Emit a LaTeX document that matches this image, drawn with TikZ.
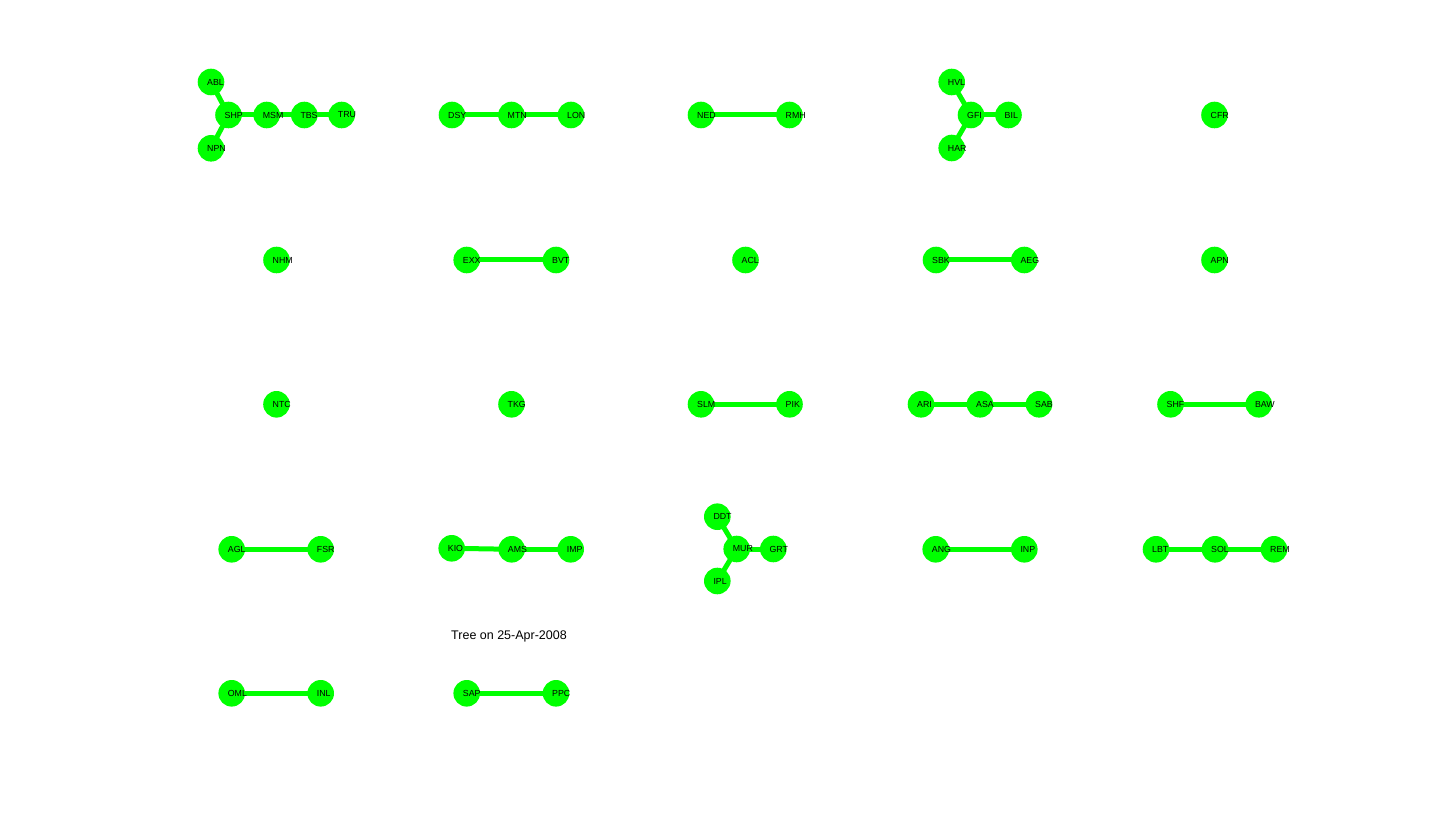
\documentclass[tikz,border=0pt]{standalone}
\usepackage{fontspec}
\setmainfont{Liberation Sans}
\pgfdeclarelayer{bg}
\pgfsetlayers{bg,main}
\definecolor{gr}{RGB}{0,255,0}
\tikzset{
  dot/.style={circle,fill=gr,draw=none,minimum size=26.6pt,inner sep=0pt},
  lbl/.style={anchor=west,inner sep=0pt,font=\fontsize{8.8}{9}\selectfont,text=black},
  edge/.style={draw=gr,line width=5pt},
  ttl/.style={inner sep=0pt,font=\fontsize{12.5}{13}\selectfont,text=black}
}
\newcommand\gn[3]{\node[dot] (#1) at (#2,#3) {}; \node[lbl] (#1t) at (#2-4,#3) {#1};}
\begin{document}
\begin{tikzpicture}[x=1pt,y=-1pt]
\useasboundingbox (0,0) rectangle (1441,837);
% Row 1
\gn{ABL}{211}{82}
\gn{SHP}{228.5}{115}
\gn{NPN}{211}{148.3}
\gn{MSM}{266.7}{115}
\gn{TBS}{304.3}{115}
\gn{TRU}{341.7}{115}
\gn{DSY}{452}{115}
\gn{MTN}{511.5}{115}
\gn{LON}{571}{115}
\gn{NED}{701}{115}
\gn{RMH}{789.5}{115}
\gn{HVL}{951.7}{82}
\gn{GFI}{971}{115}
\gn{BIL}{1008.5}{115}
\gn{HAR}{951.7}{148}
\gn{CFR}{1214.5}{115}
% Row 2
\gn{NHM}{276.5}{260}
\gn{EXX}{466.7}{260}
\gn{BVT}{556}{260}
\gn{ACL}{745.5}{260}
\gn{SBK}{936}{260}
\gn{AEG}{1024.3}{260}
\gn{APN}{1214.5}{260}
% Row 3
\gn{NTC}{276.5}{404.3}
\gn{TKG}{511.5}{404.3}
\gn{SLM}{701}{404.3}
\gn{PIK}{789.5}{404.3}
\gn{ARI}{921}{404.3}
\gn{ASA}{980}{404.3}
\gn{SAB}{1039}{404.3}
\gn{SHF}{1170.5}{404.3}
\gn{BAW}{1258.8}{404.3}
% Row 4
\gn{AGL}{231.7}{549.3}
\gn{FSR}{320.7}{549.3}
\gn{KIO}{451.7}{548.3}
\gn{AMS}{511.7}{549.3}
\gn{IMP}{570.7}{549.3}
\gn{DDT}{717.3}{516.7}
\gn{MUR}{736.7}{549}
\gn{GRT}{773.3}{549}
\gn{IPL}{717.3}{581}
\gn{ANG}{935.7}{549.3}
\gn{INP}{1024.3}{549.3}
\gn{LBT}{1156}{549.3}
\gn{SOL}{1215}{549.3}
\gn{REM}{1274}{549.3}
% Row 5
\gn{OML}{231.7}{693.3}
\gn{INL}{320.7}{693.3}
\gn{SAP}{466.7}{693.3}
\gn{PPC}{556}{693.3}
% title
\node[ttl,anchor=base] (title) at (509,639.5) {Tree on 25-Apr-2008};
\begin{pgfonlayer}{bg}
\draw[edge] (ABL.center) -- (SHP.center);
\draw[edge] (NPN.center) -- (SHP.center);
\draw[edge] (SHP.center) -- (MSM.center);
\draw[edge] (MSM.center) -- (TBS.center);
\draw[edge] (TBS.center) -- (TRU.center);
\draw[edge] (DSY.center) -- (MTN.center);
\draw[edge] (MTN.center) -- (LON.center);
\draw[edge] (NED.center) -- (RMH.center);
\draw[edge] (HVL.center) -- (GFI.center);
\draw[edge] (HAR.center) -- (GFI.center);
\draw[edge] (GFI.center) -- (BIL.center);
\draw[edge] (EXX.center) -- (BVT.center);
\draw[edge] (SBK.center) -- (AEG.center);
\draw[edge] (SLM.center) -- (PIK.center);
\draw[edge] (ARI.center) -- (ASA.center);
\draw[edge] (ASA.center) -- (SAB.center);
\draw[edge] (SHF.center) -- (BAW.center);
\draw[edge] (AGL.center) -- (FSR.center);
\draw[edge] (KIO.center) -- (AMS.center);
\draw[edge] (AMS.center) -- (IMP.center);
\draw[edge] (DDT.center) -- (MUR.center);
\draw[edge] (IPL.center) -- (MUR.center);
\draw[edge] (MUR.center) -- (GRT.center);
\draw[edge] (ANG.center) -- (INP.center);
\draw[edge] (LBT.center) -- (SOL.center);
\draw[edge] (SOL.center) -- (REM.center);
\draw[edge] (OML.center) -- (INL.center);
\draw[edge] (SAP.center) -- (PPC.center);
\end{pgfonlayer}
\end{tikzpicture}
\end{document}
